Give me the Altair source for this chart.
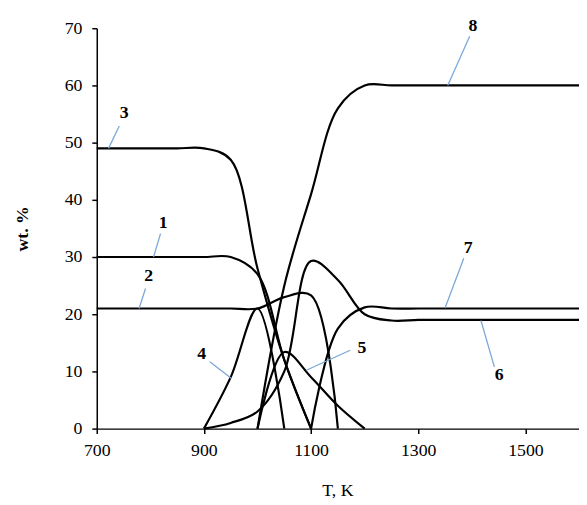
import altair as alt
import pandas as pd

# Temperature grid (K)
T = [700, 750, 800, 850, 900, 950, 1000, 1050, 1100, 1150,
     1200, 1250, 1300, 1350, 1400, 1450, 1500, 1550, 1600]
N = None
c1 = [30, 30, 30, 30, 30, 30, 27, 12, 0, N, N, N, N, N, N, N, N, N, N]
c2 = [21, 21, 21, 21, 21, 21, 21, 23, 23.3, 0, N, N, N, N, N, N, N, N, N]
c3 = [49, 49, 49, 49, 49, 47, 28, 12, 0, N, N, N, N, N, N, N, N, N, N]
c4 = [N, N, N, N, 0, 9, 21, 0, N, N, N, N, N, N, N, N, N, N, N]
c5 = [N, N, N, N, N, N, 0, 13.4, 9, 4, 0, N, N, N, N, N, N, N, N]
c6 = [N, N, N, N, 0, 1, 3, 10, 29.3, 26, 20, 18.9, 19, 19, 19, 19, 19, 19, 19]
c7 = [N, N, N, N, N, N, N, N, 0, 17.5, 21.2, 21, 21, 21, 21, 21, 21, 21, 21]
c8 = [N, N, N, N, N, N, 0, 25, 41, 56, 60, 60, 60, 60, 60, 60, 60, 60, 60]

series = {"1": c1, "2": c2, "3": c3, "4": c4, "5": c5, "6": c6, "7": c7, "8": c8}

# Curve labels and leader lines (data coordinates)
lab_text = ["3", "1", "2", "4", "5", "7", "6", "8"]
lab_T = [751, 824, 797, 896, 1195, 1393, 1451, 1402]
lab_v = [55.2, 36.0, 26.6, 13.1, 14.0, 31.5, 9.4, 70.3]
lead_T1 = [722, 806, 779, 951, 1091, 1350, 1417, 1355]
lead_v1 = [49.0, 30.0, 21.0, 8.8, 10.2, 21.1, 18.9, 60.0]
lead_T2 = [742, 819, 791, 911, 1173, 1385, 1442, 1396]
lead_v2 = [52.9, 34.1, 24.5, 11.7, 13.7, 29.8, 10.8, 68.6]

rows = []
for name, vals in series.items():
    for t, v in zip(T, vals):
        if v is not None:
            rows.append({"series": name, "T": t, "v": v})
df = pd.DataFrame(rows)

labels = pd.DataFrame({"text": lab_text, "T": lab_T, "v": lab_v})
leaders = pd.DataFrame({"T1": lead_T1, "v1": lead_v1, "T2": lead_T2, "v2": lead_v2})

FONT = "'Times New Roman', 'Liberation Serif', Tinos, serif"
xscale = alt.Scale(domain=[700, 1600], nice=False, zero=False)
yscale = alt.Scale(domain=[0, 70], nice=False)

xaxis = alt.Axis(values=[700, 900, 1100, 1300, 1500], format="d", title="T, K", grid=False,
                 domainColor="black", domainWidth=1.5, tickColor="black",
                 tickSize=5, tickWidth=1.5, labelFont=FONT, labelFontSize=18,
                 labelColor="black", labelPadding=8, labelFlush=False,
                 titleFont=FONT, titleFontSize=18, titleFontWeight="normal",
                 titleColor="black", titleX=244, titleY=63, titleBaseline="middle")
yaxis = alt.Axis(values=[0, 10, 20, 30, 40, 50, 60, 70], format="d", title="wt. %", grid=False,
                 domainColor="black", domainWidth=1.5, tickColor="black",
                 tickSize=5, tickWidth=1.5, labelFont=FONT, labelFontSize=18,
                 labelColor="black", labelPadding=10,
                 titleFont=FONT, titleFontSize=18, titleFontWeight="bold",
                 titleColor="black", titleX=-75, titleY=203, titleBaseline="middle",
                 titleAlign="center")

lines = alt.Chart(df).mark_line(interpolate="catmull-rom", color="black",
                                strokeWidth=2.2).encode(
    x=alt.X("T:Q", scale=xscale, axis=xaxis),
    y=alt.Y("v:Q", scale=yscale, axis=yaxis),
    detail="series:N",
)

lead = alt.Chart(leaders).mark_rule(color="#7ba7d9", strokeWidth=1.3).encode(
    x="T1:Q", y="v1:Q", x2="T2:Q", y2="v2:Q"
)

text = alt.Chart(labels).mark_text(font=FONT, fontSize=18, fontWeight="bold",
                                   color="black", align="center",
                                   baseline="middle").encode(
    x="T:Q", y="v:Q", text="text:N"
)

chart = alt.layer(lines, lead, text).properties(
    width=489, height=406,
    autosize=alt.AutoSizeParams(type="none"),
    padding={"left": 90, "top": 17, "right": 0, "bottom": 80},
).configure_view(stroke=None)

chart.save("out.html", embed_options={"renderer": "svg", "actions": False})
